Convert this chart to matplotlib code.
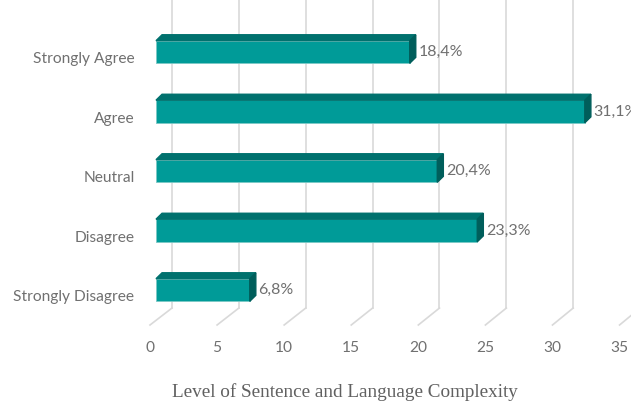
import numpy as np
import matplotlib
matplotlib.use('Agg')
from matplotlib import pyplot as plt
from matplotlib.patches import Polygon

categories = ['Strongly Disagree', 'Disagree', 'Neutral', 'Agree', 'Strongly Agree']
values = [6.8, 23.3, 20.4, 31.1, 18.4]
value_labels = ['6,8%', '23,3%', '20,4%', '31,1%', '18,4%']
ticks = [0, 5, 10, 15, 20, 25, 30, 35]
xlabel = 'Level of Sentence and Language Complexity'

front = '#009b98'
top = '#00716e'
side = '#005e5b'
grid_c = '#d9d9d9'
text_c = '#707070'

# fake 3D depth (data units)
dx, dy = 0.44, 0.10
h = 0.38
# perspective of back wall / tick plane relative to bar front plane
back_scale, back_shift = 0.97, 1.16
tick_scale, tick_shift = 0.973, -0.435
grid_bottom, diag_bottom = -0.303, -0.588

W, H = 631, 405
fig = plt.figure(figsize=(W / 100, H / 100), dpi=100)
ax = fig.add_axes([140 / W, 75 / H, 491 / W, 330 / H])
ax.set_xlim(-1.16, 34.45)
ax.set_ylim(-0.672, 4.874)
for s in ax.spines.values():
    s.set_visible(False)

# gridlines on back wall with floor diagonals
for t in ticks:
    xb = back_shift + back_scale * t
    xf = tick_shift + tick_scale * t
    ax.plot([xb, xb], [4.874, grid_bottom], color=grid_c, lw=1.2, zorder=1)
    ax.plot([xb, xf], [grid_bottom, diag_bottom], color=grid_c, lw=1.2, zorder=1)

ypos = np.arange(len(categories))
ax.barh(ypos, values, height=h, left=0, color=front, edgecolor='#7cc9c6', lw=0.6, zorder=3)
for k, v in zip(ypos, values):
    yt = k + h / 2
    yb = k - h / 2
    ax.add_patch(Polygon([(0, yt), (v, yt), (v + dx, yt + dy), (dx, yt + dy)],
                         closed=True, color=top, zorder=3))
    ax.add_patch(Polygon([(v, yb), (v, yt), (v + dx, yt + dy), (v + dx, yb + dy)],
                         closed=True, color=side, zorder=3))

for k, v, lab in zip(ypos, values, value_labels):
    ax.text(v + dx + 0.2, k, lab, va='center', ha='left', fontsize=11.5,
            family='Lato', color=text_c, clip_on=False)

ax.set_yticks(ypos - 0.1)
ax.set_yticklabels(categories, family='Lato', fontsize=11.2, color=text_c)
ax.set_xticks([tick_shift + tick_scale * t for t in ticks])
ax.set_xticklabels([str(t) for t in ticks], family='Lato', fontsize=11.2, color=text_c)
ax.tick_params(axis='both', length=0)
ax.tick_params(axis='y', pad=4)
ax.tick_params(axis='x', pad=8)

fig.text(345 / W, 1 - 392 / H, xlabel, ha='center', va='center',
         family='Liberation Serif', fontsize=13.8, color='#606060')

fig.savefig('out.png', dpi=100)
